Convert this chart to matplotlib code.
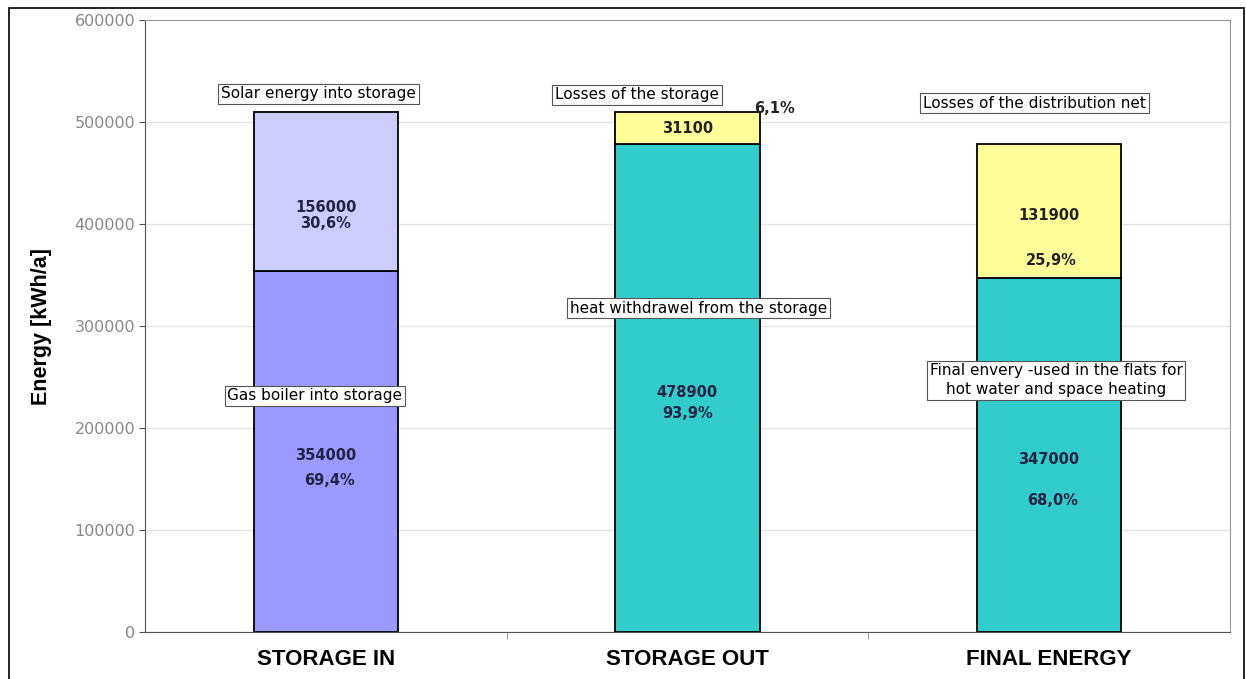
import numpy as np
import matplotlib.pyplot as plt
from matplotlib.patches import Rectangle

plt.rcParams['font.family'] = ['DejaVu Sans']

categories = ['STORAGE IN', 'STORAGE OUT', 'FINAL ENERGY']
bottom_vals = [354000, 478900, 347000]
top_vals = [156000, 31100, 131900]
bottom_pct = ['69,4%', '93,9%', '68,0%']
top_pct = ['30,6%', '6,1%', '25,9%']
bottom_colors = ['#9999ff', '#33cccc', '#33cccc']
top_colors = ['#ccccff', '#ffff99', '#ffff99']

fig = plt.figure(figsize=(12.46, 6.79), dpi=100)
ax = fig.add_axes([0.1164, 0.0692, 0.8706, 0.9013])

x = np.arange(len(categories))
ax.bar(x, bottom_vals, width=0.4, color=bottom_colors, edgecolor='black', linewidth=1.3, zorder=3)
ax.bar(x, top_vals, width=0.4, bottom=bottom_vals, color=top_colors, edgecolor='black', linewidth=1.3, zorder=3)

ax.set_xlim(-0.5, 2.5)
ax.set_ylim(0, 600000)
ax.set_yticks(np.arange(0, 600001, 100000))
ax.set_yticklabels([str(v) for v in range(0, 600001, 100000)], color='#888888', fontsize=11.5)
ax.yaxis.grid(True, color='#e4e4e4', linewidth=1, zorder=0)
ax.set_xticks(x)
ax.set_xticklabels(categories, fontsize=16, fontweight='bold', family='Liberation Sans')
ax.tick_params(axis='x', length=0, pad=12)
ax.set_xticks([0.5, 1.5], minor=True)
ax.tick_params(axis='x', which='minor', length=5, color='#888888')
ax.tick_params(axis='y', length=4, color='#555555', pad=3)
ax.set_ylabel('Energy [kWh/a]', fontsize=15.5, fontweight='bold', family='Liberation Sans', labelpad=16)
for side in ['left', 'bottom']:
    ax.spines[side].set_color('#555555')
for side in ['top', 'right']:
    ax.spines[side].set_color('#999999')

box = dict(boxstyle='square,pad=0.18', facecolor='white', edgecolor='#555555', linewidth=0.8)
fs = 11
vs = 10.5

# value labels
ax.text(0, 416000, '156000', ha='center', va='center', fontsize=vs, fontweight='bold', color='#222244', zorder=5)
ax.text(0, 401000, top_pct[0], ha='center', va='center', fontsize=vs, fontweight='bold', color='#222244', zorder=5)
ax.text(0, 173500, '354000', ha='center', va='center', fontsize=vs, fontweight='bold', color='#222244', zorder=5)
ax.text(0.01, 149000, bottom_pct[0], ha='center', va='center', fontsize=vs, fontweight='bold', color='#222244', zorder=5)

ax.text(1, 494000, '31100', ha='center', va='center', fontsize=vs, fontweight='bold', color='#222222', zorder=5)
ax.text(1.24, 513000, top_pct[1], ha='center', va='center', fontsize=10.5, fontweight='bold', color='#222222', zorder=5)
ax.text(1, 235300, '478900', ha='center', va='center', fontsize=vs, fontweight='bold', color='#222244', zorder=5)
ax.text(1, 214700, bottom_pct[1], ha='center', va='center', fontsize=vs, fontweight='bold', color='#222244', zorder=5)

ax.text(2, 408800, '131900', ha='center', va='center', fontsize=vs, fontweight='bold', color='#222222', zorder=5)
ax.text(2.005, 364700, top_pct[2], ha='center', va='center', fontsize=vs, fontweight='bold', color='#222222', zorder=5)
ax.text(2, 169600, '347000', ha='center', va='center', fontsize=vs, fontweight='bold', color='#222244', zorder=5)
ax.text(2.01, 129400, bottom_pct[2], ha='center', va='center', fontsize=vs, fontweight='bold', color='#222244', zorder=5)

# description boxes
ax.text(-0.02, 527500, 'Solar energy into storage', ha='center', va='center', fontsize=fs, bbox=box, zorder=6)
ax.text(-0.03, 231400, 'Gas boiler into storage', ha='center', va='center', fontsize=fs, bbox=box, zorder=6)
ax.text(0.86, 526500, 'Losses of the storage', ha='center', va='center', fontsize=fs, bbox=box, zorder=6)
ax.text(1.03, 317600, 'heat withdrawel from the storage', ha='center', va='center', fontsize=fs, bbox=box, zorder=6)
ax.text(1.96, 518600, 'Losses of the distribution net', ha='center', va='center', fontsize=fs, bbox=box, zorder=6)
ax.text(2.02, 247000, 'Final envery -used in the flats for\nhot water and space heating', ha='center', va='center',
        fontsize=fs, linespacing=1.3, bbox=box, zorder=6)

# outer frame
fig.patches.append(Rectangle((0.007, -0.01), 0.991, 0.998, transform=fig.transFigure,
                             fill=False, edgecolor='black', linewidth=1.2))

fig.savefig('out.png', dpi=100)
